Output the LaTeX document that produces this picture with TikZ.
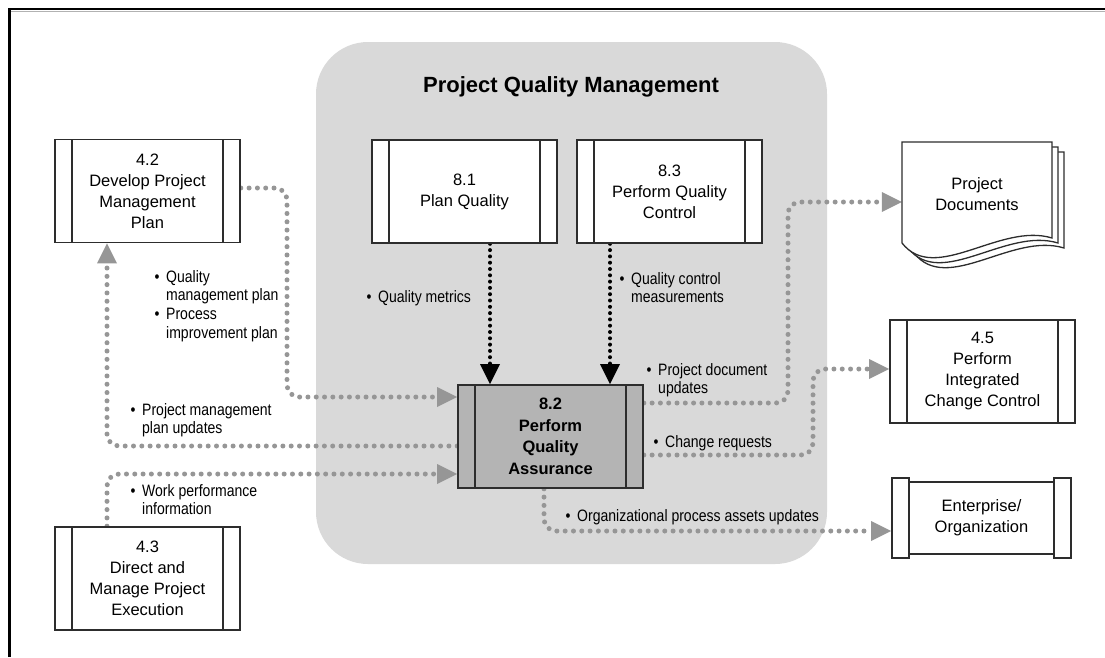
\documentclass[tikz,border=0pt]{standalone}
\usepackage{fontspec}
\setmainfont{Liberation Sans}
\newfontfamily\lblfont[FakeStretch=0.85]{Liberation Sans}
\usetikzlibrary{arrows.meta,backgrounds}
\definecolor{flowgray}{RGB}{150,150,150}
\definecolor{regiongray}{RGB}{217,217,217}
\definecolor{qagray}{RGB}{180,180,180}
\definecolor{edgecol}{RGB}{45,45,45}
\newcommand\bl{\makebox[11.5pt][l]{\textbullet}}
\newcommand\ind{\hspace*{11.5pt}}
\newcommand\lbltab[1]{\begin{tabular}[t]{@{}l@{}}#1\end{tabular}}
\begin{document}
\begin{tikzpicture}[x=1pt,y=-1pt,
  boxfont/.style={font=\fontsize{16.5}{21}\selectfont},
  procbox/.style={draw=edgecol, line width=1.6pt, minimum width=185pt, minimum height=103pt,
    inner sep=0pt, align=center, fill=white, boxfont,
    path picture={
      \draw[edgecol, line width=1.6pt] ([xshift=17pt]path picture bounding box.north west) -- ([xshift=17pt]path picture bounding box.south west);
      \draw[edgecol, line width=1.6pt] ([xshift=-17pt]path picture bounding box.north east) -- ([xshift=-17pt]path picture bounding box.south east);}},
  capbox/.style={draw=edgecol, line width=1.6pt, fill=white, minimum width=17pt, minimum height=80pt, inner sep=0pt},
  gflow/.style={draw=flowgray, line width=5pt, line cap=round, dash pattern=on 0pt off 8.3pt,
    rounded corners=12pt, -{Triangle[length=20pt,width=20pt,line width=0pt]}},
  bflow/.style={draw=black, line width=4pt, line cap=round, dash pattern=on 0pt off 6.3pt,
    -{Triangle[length=20pt,width=20pt,line width=0pt]}},
  lbl/.style={anchor=base west, inner sep=0pt, font=\lblfont\fontsize{16.5}{18.8}\selectfont},
  pagestyle/.style={draw=edgecol, line width=1.3pt, fill=white}
]
\useasboundingbox (0,0) rectangle (1105,657);

% frame
\draw[gray!60, line width=1pt] (10,11.2) -- (1105,11.2);
\draw[black, line width=2.6pt] (9.6,657) -- (9.6,9) -- (1105,9);

% title
\node[font=\bfseries\fontsize{22}{26}\selectfont, anchor=base] (title) at (571,92) {Project Quality Management};

% process boxes
\node[procbox] (pmp) at (147.5,191) {4.2\\Develop Project\\Management\\Plan};
\node[procbox] (pq) at (464.5,191.5) {8.1\\Plan Quality};
\node[procbox] (pqc) at (669.5,191.5) {8.3\\Perform Quality\\Control};
\node[procbox, fill=qagray, font=\bfseries\fontsize{16.5}{21.5}\selectfont] (pqa) at (550.5,436.5) {8.2\\Perform\\Quality\\Assurance};
\node[procbox] (dmpe) at (147.5,578.5) {4.3\\Direct and\\Manage Project\\Execution};
\node[procbox] (picc) at (982.5,371.5) {4.5\\Perform\\Integrated\\Change Control};

% enterprise
\node[draw=edgecol, line width=1.6pt, minimum width=145pt, minimum height=72pt, inner sep=0pt, align=center, boxfont] (ent) at (981.5,518) {Enterprise/\\Organization};
\node[capbox] (entL) at (900.5,518) {};
\node[capbox] (entR) at (1062.5,518) {};

% project documents
\foreach \s/\t in {12/10, 6/5, 0/0} {
  \draw[pagestyle, shift={(\s,\t)}] (902,142) -- (1052,142) -- (1052,238)
    .. controls (1000,222) and (935,285) .. (902,243) -- cycle;
}
\node[minimum width=150pt, minimum height=100pt, inner sep=0pt, align=center, boxfont] (docs) at (977,194) {Project\\Documents};

% labels
\node[lbl] (l1) at (154.5,282) {\lbltab{\bl Quality\\\ind management plan\\\bl Process\\\ind improvement plan}};
\node[lbl] (l2) at (366.5,302) {\lbltab{\bl Quality metrics}};
\node[lbl] (l3) at (619.5,284) {\lbltab{\bl Quality control\\\ind measurements}};
\node[lbl] (l4) at (130.5,415) {\lbltab{\bl Project management\\\ind plan updates}};
\node[lbl] (l5) at (130.5,496) {\lbltab{\bl Work performance\\\ind information}};
\node[lbl] (l6) at (646.5,375) {\lbltab{\bl Project document\\\ind updates}};
\node[lbl] (l7) at (653.5,447) {\lbltab{\bl Change requests}};
\node[lbl] (l8) at (565.5,521) {\lbltab{\bl Organizational process assets updates}};

% coordinates for connectors
\coordinate (a1) at (287,397);
\coordinate (a2) at (107,446);
\coordinate (a3) at (107,474);
\coordinate (a4) at (490,0);
\coordinate (a5) at (610,0);
\coordinate (a6) at (788,403);
\coordinate (b6) at (788,202);
\coordinate (a7) at (813,455);
\coordinate (b7) at (813,369);
\coordinate (a8) at (544,531);

\begin{scope}[on background layer]
  \fill[regiongray, rounded corners=52pt] (316,42) rectangle (827,564);
  \draw[gflow] ([yshift=3pt]pmp.east) -| (a1) -- (a1 -| pqa.west);
  \draw[gflow] (a2 -| pqa.west) -| (a2 |- pmp.south);
  \draw[gflow] (a3 |- dmpe.north) |- (a3 -| pqa.west);
  \draw[bflow] (a4 |- pq.south) -- (a4 |- pqa.north);
  \draw[bflow] (a5 |- pqc.south) -- (a5 |- pqa.north);
  \draw[gflow] (a6 -| pqa.east) -- (a6) -- (b6) -- (b6 -| docs.west);
  \draw[gflow] (a7 -| pqa.east) -- (a7) -- (b7) -- (b7 -| picc.west);
  \draw[gflow] (a8 |- pqa.south) -- (a8) -- (a8 -| entL.west);
\end{scope}
\end{tikzpicture}
\end{document}
